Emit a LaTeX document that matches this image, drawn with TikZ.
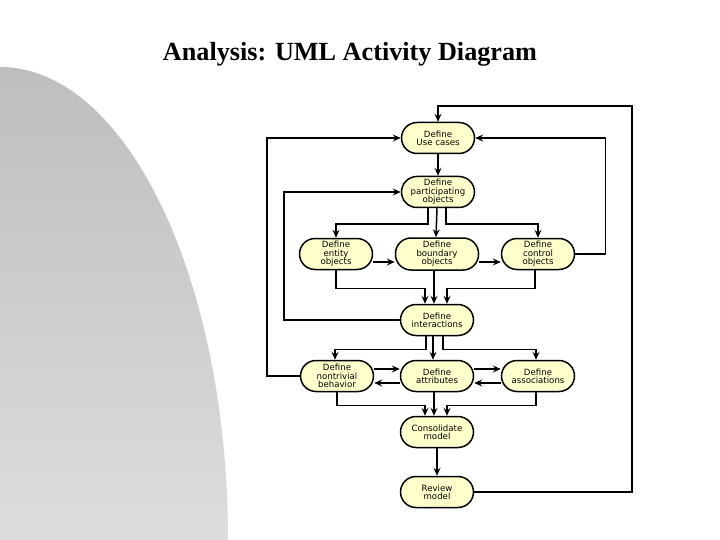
\documentclass[tikz,border=0pt]{standalone}
\usepackage{fontspec}
\setmainfont{Liberation Serif}
\newfontfamily\actfont{DejaVu Sans}
\usepackage{tikz}
\usetikzlibrary{arrows.meta}
\definecolor{actfill}{RGB}{255,255,204}
\definecolor{shadetop}{RGB}{190,190,190}
\definecolor{shadebot}{RGB}{221,221,221}

\tikzset{
    activity/.style={rectangle, rounded corners=15.5pt, draw=black, fill=actfill, line width=1.5pt,
        minimum width=73pt, minimum height=31pt, inner sep=1pt, align=center,
        font=\actfont\fontsize{8.6}{8.4}\selectfont},
    flow/.style={line width=1.5pt, -{Stealth[length=8pt,width=7pt,inset=3pt]}},
    link/.style={line width=1.5pt}
}

\begin{document}
\begin{tikzpicture}[x=1pt, y=-1pt]
    \useasboundingbox (0,0) rectangle (720,540);
    \fill[white] (0,0) rectangle (720,540);
    \shade[top color=shadetop, bottom color=shadebot] (0,540) -- (0,67)
        arc[start angle=-90, end angle=0, x radius=228, y radius=473] -- cycle;

    \node[anchor=base, font=\bfseries\fontsize{26.2}{30}\selectfont] (title) at (350,61) {Analysis: UML Activity Diagram};

    \node[activity] (usecases) at (438,138) {Define\\Use cases};
    \node[activity] (partobj) at (438,192) {Define\\participating\\objects};
    \node[activity] (entity) at (336,254) {Define\\entity\\objects};
    \node[activity, minimum width=83pt, minimum height=32pt] (boundary) at (437,254) {Define\\boundary\\objects};
    \node[activity] (control) at (538,254) {Define\\control\\objects};
    \node[activity] (interact) at (437,320) {Define\\interactions};
    \node[activity] (nontriv) at (337,376) {Define\\nontrivial\\behavior};
    \node[activity] (attrib) at (437,376) {Define\\attributes};
    \node[activity] (assoc) at (538,376) {Define\\associations};
    \node[activity] (consol) at (437,432) {Consolidate\\model};
    \node[activity] (review) at (437,492) {Review\\model};

    \coordinate (loopcorner) at (632,106);

    \draw[flow] (review.east) -| (loopcorner) -| (usecases.north);
    \draw[flow] (nontriv.west) -- ++(-33,0) |- (usecases.west);
    \draw[flow] (control.east) -- ++(30,0) |- (usecases.east);
    \draw[flow] (interact.west) -- ++(-116,0) |- (partobj.west);
    \draw[flow] (usecases.south) -- (partobj.north);

    \draw[flow] ([xshift=-10pt]partobj.south) -- ++(0,16) -| (entity.north);
    \draw[flow] ([xshift=-1pt]partobj.south) -- ([xshift=-1pt]boundary.north);
    \draw[flow] ([xshift=8pt]partobj.south) -- ++(0,16) -| (control.north);
    \draw[flow] ([yshift=-8pt]entity.east) -- ([yshift=-8pt]boundary.west);
    \draw[flow] ([yshift=-8pt]boundary.east) -- ([yshift=-8pt]control.west);

    \draw[flow] (entity.south) -- ++(0,18) -| ([xshift=-12pt]interact.north);
    \draw[flow] ([xshift=-3pt]boundary.south) -- ([xshift=-3pt]interact.north);
    \draw[flow] ([xshift=-3pt]control.south) -- ++(0,18) -| ([xshift=10pt]interact.north);

    \draw[flow] ([xshift=-11pt]interact.south) -- ++(0,13) -| ([xshift=-2pt]nontriv.north);
    \draw[flow] ([xshift=-4pt]interact.south) -- ([xshift=-4pt]attrib.north);
    \draw[flow] ([xshift=6pt]interact.south) -- ++(0,13) -| ([xshift=-2pt]assoc.north);
    \draw[flow] ([yshift=7pt]nontriv.east) -- ([yshift=7pt]attrib.west);
    \draw[flow] ([yshift=-7pt]attrib.west) -- ([yshift=-7pt]nontriv.east);
    \draw[flow] ([yshift=7pt]attrib.east) -- ([yshift=7pt]assoc.west);
    \draw[flow] ([yshift=-7pt]assoc.west) -- ([yshift=-7pt]attrib.east);

    \draw[flow] (nontriv.south) -- ++(0,13) -| ([xshift=-12pt]consol.north);
    \draw[flow] ([xshift=-3pt]attrib.south) -- ([xshift=-3pt]consol.north);
    \draw[flow] ([xshift=-2pt]assoc.south) -- ++(0,13) -| ([xshift=10pt]consol.north);
    \draw[flow] (consol.south) -- (review.north);
\end{tikzpicture}
\end{document}
